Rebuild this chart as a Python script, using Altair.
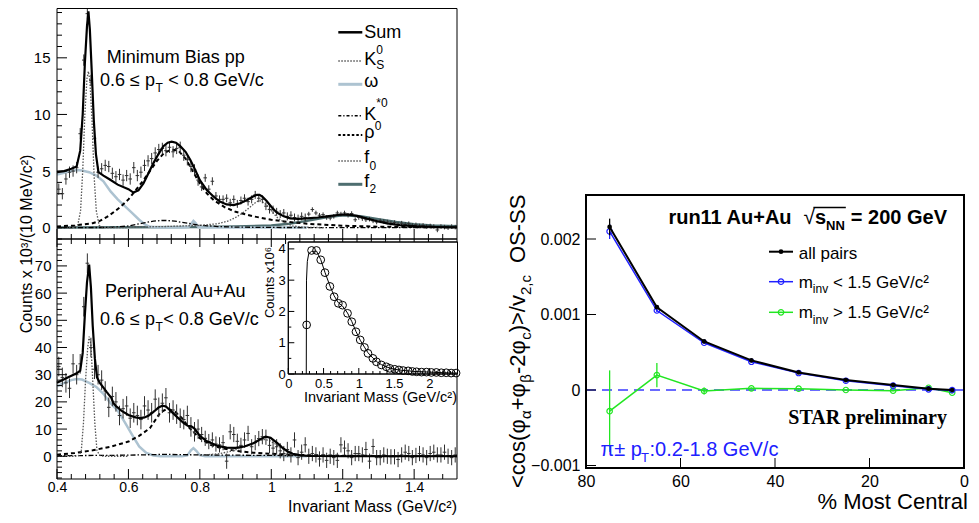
import altair as alt
import pandas as pd

W, H = 963, 507
FONT = "Liberation Sans"
ONE = pd.DataFrame({"k": [0]})

# ---------------- left panels: invariant-mass histograms ----------------
mass_bins = [round(0.405 + 0.01 * i, 3) for i in range(112)]
pp_counts = [3.4, 3.0, 4.3, 4.9, 5.0, 5.3, 8.3, 14.8, 18.9, 13.0,
             7.9, 4.9, 5.2, 5.5, 5.4, 4.8, 4.5, 4.7, 4.2, 4.6,
             4.3, 5.3, 4.6, 4.9, 5.5, 5.9, 6.1, 6.6, 6.9, 7.0,
             6.8, 7.1, 6.7, 7.0, 7.1, 6.4, 6.0, 5.4, 5.1, 4.2,
             3.6, 4.4, 3.4, 4.1, 2.8, 2.5, 2.5, 2.6, 2.2, 2.5,
             2.1, 2.4, 2.6, 2.3, 2.5, 2.9, 2.6, 2.5, 1.9, 1.6,
             1.6, 1.4, 1.2, 1.3, 1.0, 1.1, 0.9, 0.8, 1.0, 0.9,
             1.2, 1.6, 1.3, 1.1, 1.15, 0.9, 0.85, 1.0, 1.3, 1.2,
             1.3, 1.1, 1.25, 0.7, 0.9, 0.8, 0.7, 0.75, 0.6, 0.5,
             0.6, 0.55, 0.5, 0.4, 0.45, 0.3, 0.4, 0.3, 0.35, 0.2,
             0.25, 0.15, 0.2, 0.1, 0.15, 0.1, -0.2, 0.1, 0.05, 0.0,
             0.1, 0.05]
pp_errors = [0.5] * 40 + [0.35] * 30 + [0.2] * 42
auau_counts = [33, 29, 27, 25, 34, 30, 34, 55, 71, 40,
               32, 30, 28, 24, 18, 22, 20, 15, 17.5, 18.5,
               14, 16, 15, 13.5, 18.5, 17, 16, 21, 18, 19.5,
               21.5, 16, 17, 15.5, 14, 13.5, 15, 10.8, 9, 10,
               8, 6.6, 5.4, 6, 4.5, 4.2, 5, -1.8, 9, 8,
               5.5, 4, 6, 8.4, 3.5, 5, 6.5, 7.2, 7, 4,
               3, 3.5, 2, 1, 2.5, 0.5, 6, -0.5, 1.5, 4.2,
               0, 1, 0.5, -1, 0.5, -1.5, 0, -0.5, -1.5, 4.2,
               3, 2, -0.5, 1, 1, 0.5, 2.5, -1.8, 3.6, -0.5,
               -0.5, 0.5, 0, -0.2, -0.2, -1.2, 0.5, 1.5, 1, -0.5,
               0.3, 1, 0.5, -0.5, 1, 1.5, 0.5, 0.5, 1.5, 0,
               -0.5, 0.5]
auau_errors = [3.6] * 40 + [2.8] * 72

# fit components, pp
pp_sum_m = [0.40, 0.42, 0.44, 0.455, 0.465, 0.472, 0.478, 0.484, 0.488, 0.492, 0.497, 0.503, 0.509,
            0.516, 0.53, 0.548, 0.57, 0.60, 0.614, 0.628, 0.642, 0.656, 0.67, 0.684, 0.698, 0.71,
            0.721, 0.733, 0.745, 0.76, 0.773, 0.787, 0.80, 0.82, 0.838, 0.856, 0.875, 0.895, 0.913,
            0.932, 0.95, 0.96, 0.967, 0.975, 0.987, 1.00, 1.015, 1.035, 1.053, 1.075, 1.10, 1.13,
            1.155, 1.185, 1.212, 1.24, 1.268, 1.30, 1.324, 1.36, 1.408, 1.46, 1.52]
pp_sum_v = [4.9, 5.0, 5.2, 5.4, 6.8, 10.0, 14.5, 17.8, 19.1, 17.5, 14.0, 9.5, 6.5,
            4.9, 4.6, 4.25, 3.8, 3.4, 3.1, 3.3, 3.9, 4.8, 5.7, 6.5, 7.2, 7.5,
            7.6, 7.5, 7.2, 6.7, 6.0, 5.1, 4.2, 3.3, 2.75, 2.3, 2.05, 2.0, 2.15,
            2.45, 2.78, 2.9, 2.9, 2.75, 2.35, 1.85, 1.35, 1.0, 0.82, 0.78, 0.82, 0.9,
            1.0, 1.12, 1.18, 1.05, 0.8, 0.55, 0.38, 0.22, 0.12, 0.06, 0.03]
pp_ks_m = [0.40, 0.445, 0.458, 0.466, 0.472, 0.478, 0.484, 0.488, 0.492, 0.498, 0.504, 0.51, 0.518, 0.53, 0.60]
pp_ks_v = [0, 0, 0.2, 1.5, 5.0, 10.0, 13.2, 13.8, 13.0, 9.5, 4.5, 1.5, 0.2, 0, 0]
pp_omega_m = [0.40, 0.42, 0.44, 0.455, 0.47, 0.49, 0.51, 0.53, 0.55, 0.57, 0.59, 0.61, 0.63, 0.645,
              0.66, 0.68, 0.75, 0.768, 0.776, 0.782, 0.788, 0.796, 0.81, 0.90, 1.00, 1.10]
pp_omega_v = [4.7, 4.85, 5.0, 5.1, 5.05, 4.9, 4.6, 4.1, 3.2, 2.5, 1.9, 1.3, 0.7, 0.3,
              0.08, 0.02, 0.02, 0.05, 0.35, 0.6, 0.4, 0.05, 0.02, 0.02, 0.02, 0.02]
pp_kstar_m = [0.40, 0.55, 0.60, 0.64, 0.67, 0.70, 0.73, 0.76, 0.80, 0.85, 0.90, 1.0, 1.2, 1.52]
pp_kstar_v = [0.0, 0.02, 0.15, 0.4, 0.58, 0.65, 0.58, 0.42, 0.22, 0.1, 0.05, 0.02, 0.0, 0.0]
pp_rho_m = [0.40, 0.45, 0.50, 0.52, 0.54, 0.56, 0.58, 0.60, 0.62, 0.64, 0.66, 0.68, 0.70, 0.72, 0.74,
            0.76, 0.78, 0.80, 0.82, 0.84, 0.87, 0.90, 0.95, 1.00, 1.05, 1.10, 1.20, 1.30, 1.40, 1.52]
pp_rho_v = [0.1, 0.2, 0.4, 0.6, 0.95, 1.4, 1.9, 2.5, 3.3, 4.1, 5.0, 5.9, 6.6, 6.9, 6.8,
            6.1, 5.0, 3.9, 3.0, 2.4, 1.8, 1.4, 1.0, 0.7, 0.5, 0.35, 0.17, 0.09, 0.05, 0.03]
pp_f0_m = [0.60, 0.70, 0.80, 0.85, 0.88, 0.90, 0.92, 0.94, 0.955, 0.965, 0.975, 0.99, 1.005, 1.02,
           1.04, 1.06, 1.09, 1.15]
pp_f0_v = [0.05, 0.1, 0.2, 0.35, 0.6, 0.9, 1.3, 1.8, 2.2, 2.4, 2.3, 1.9, 1.3, 0.8, 0.4, 0.15, 0.05, 0.0]
pp_f2_m = [0.40, 0.60, 0.80, 0.90, 1.00, 1.05, 1.10, 1.15, 1.20, 1.25, 1.30, 1.35, 1.40, 1.45, 1.52]
pp_f2_v = [0.02, 0.03, 0.05, 0.1, 0.2, 0.35, 0.6, 0.9, 1.1, 1.0, 0.75, 0.5, 0.3, 0.2, 0.12]

# fit components, peripheral Au+Au
aa_sum_m = [0.40, 0.43, 0.455, 0.465, 0.472, 0.478, 0.484, 0.49, 0.495, 0.50, 0.506, 0.512, 0.52,
            0.54, 0.552, 0.558, 0.565, 0.58, 0.60, 0.62, 0.634, 0.645, 0.657, 0.67, 0.685, 0.695,
            0.705, 0.72, 0.738, 0.755, 0.766, 0.776, 0.785, 0.80, 0.82, 0.85, 0.875, 0.90, 0.925,
            0.95, 0.97, 0.984, 0.998, 1.017, 1.03, 1.045, 1.06, 1.082, 1.11, 1.20, 1.30, 1.40, 1.52]
aa_sum_v = [27, 29, 30.5, 31.5, 38, 52, 64, 70.5, 62, 48, 36, 29, 27,
            23.5, 21.5, 19.5, 18.5, 16.8, 15.2, 14.3, 14.0, 14.3, 15.0, 16.3, 18.0, 18.6,
            18.3, 16.5, 14.2, 12.2, 11.2, 11.0, 10.2, 7.5, 5.5, 3.8, 3.2, 3.1, 3.6,
            4.8, 6.3, 7.2, 6.8, 4.8, 3.3, 1.8, 0.9, 0.3, 0.1, 0.0, 0.0, 0.0, 0.0]
aa_ks_m = [0.40, 0.45, 0.462, 0.468, 0.474, 0.48, 0.486, 0.49, 0.495, 0.50, 0.506, 0.512, 0.52, 0.53, 0.60]
aa_ks_v = [0, 0, 0.3, 2, 12, 28, 40, 44, 41, 28, 12, 2, 0.3, 0, 0]
aa_omega_m = [0.40, 0.42, 0.44, 0.455, 0.47, 0.49, 0.51, 0.53, 0.55, 0.57, 0.59, 0.61, 0.63, 0.65,
              0.67, 0.69, 0.75, 0.765, 0.775, 0.782, 0.79, 0.80, 0.815, 0.90, 1.00, 1.10]
aa_omega_v = [25.7, 27.0, 28.0, 28.4, 28.2, 27.0, 25.5, 23.0, 19.5, 16.8, 12.5, 8.0, 3.6, 1.2,
              0.3, 0.05, 0.05, 0.3, 2.2, 3.0, 2.0, 0.4, 0.05, 0.0, 0.0, 0.0]
aa_rho_m = [0.40, 0.45, 0.50, 0.55, 0.60, 0.63, 0.66, 0.69, 0.71, 0.73, 0.75, 0.77, 0.80, 0.83, 0.86,
            0.90, 0.95, 1.00, 1.10, 1.20, 1.35, 1.52]
aa_rho_v = [0.6, 1.2, 2.2, 3.5, 5.4, 7.5, 10.3, 16.2, 17.5, 16.5, 14.0, 10.5, 6.6, 4.2, 3.0,
            2.0, 1.3, 0.9, 0.4, 0.2, 0.1, 0.05]
aa_kstar_m = [0.40, 0.60, 0.70, 0.80, 1.00, 1.20, 1.52]
aa_kstar_v = [0.2, 0.4, 0.7, 0.5, 0.3, 0.2, 0.1]
aa_f0_m = [0.80, 0.85, 0.88, 0.91, 0.94, 0.96, 0.98, 0.995, 1.01, 1.03, 1.05, 1.07, 1.10]
aa_f0_v = [0.3, 0.9, 1.6, 2.8, 4.3, 5.5, 6.2, 5.8, 4.6, 2.9, 1.4, 0.5, 0.1]

# inset: full mass range (counts x 10^6)
inset_m = [0.26, 0.33, 0.40, 0.46, 0.52, 0.59, 0.65, 0.71, 0.77, 0.84, 0.90, 0.96, 1.02, 1.08, 1.13,
           1.20, 1.25, 1.32, 1.39, 1.44, 1.51, 1.57, 1.63, 1.70, 1.76, 1.82, 1.89, 1.96, 2.03, 2.10,
           2.17, 2.24, 2.31, 2.38]
inset_v = [1.57, 3.95, 3.95, 3.65, 3.24, 2.80, 2.47, 2.26, 2.20, 1.94, 1.67, 1.35, 1.09, 0.85, 0.66,
           0.50, 0.39, 0.29, 0.23, 0.18, 0.15, 0.13, 0.11, 0.10, 0.08, 0.07, 0.06, 0.06, 0.05, 0.05,
           0.04, 0.04, 0.03, 0.03]
inset_fit_m = [0.255, 0.258, 0.27, 0.29, 0.33, 0.40, 0.46, 0.52, 0.59, 0.65, 0.71, 0.77, 0.84, 0.90,
               0.96, 1.02, 1.08, 1.13, 1.20, 1.25, 1.32, 1.39, 1.44, 1.51, 1.60, 1.70, 1.80, 1.90,
               2.00, 2.10, 2.20, 2.30, 2.40]
inset_fit_v = [0, 3.0, 3.6, 3.85, 3.92, 3.93, 3.66, 3.25, 2.82, 2.5, 2.28, 2.17, 1.95, 1.68,
               1.36, 1.08, 0.86, 0.68, 0.51, 0.40, 0.30, 0.23, 0.19, 0.15, 0.12, 0.10, 0.08, 0.07,
               0.06, 0.05, 0.04, 0.035, 0.03]

# ---------------- right panel: STAR correlator ----------------
centrality = [75, 65, 55, 45, 35, 25, 15, 7.5, 2.5]
all_pairs = [2.16e-3, 1.097e-3, 0.643e-3, 0.392e-3, 0.233e-3, 0.132e-3, 0.066e-3, 0.018e-3, 0.0]
all_err = [0.11e-3, 0.025e-3, 0.012e-3, 0.008e-3, 0.006e-3, 0.005e-3, 0.005e-3, 0.005e-3, 0.005e-3]
low_m = [2.10e-3, 1.053e-3, 0.626e-3, 0.374e-3, 0.225e-3, 0.123e-3, 0.057e-3, 0.009e-3, -0.002e-3]
low_err = [0.10e-3, 0.022e-3, 0.012e-3, 0.008e-3, 0.006e-3, 0.005e-3, 0.005e-3, 0.005e-3, 0.005e-3]
high_m = [-0.28e-3, 0.198e-3, -0.013e-3, 0.022e-3, 0.018e-3, 0.0, -0.009e-3, 0.03e-3, -0.035e-3]
high_err = [0.54e-3, 0.16e-3, 0.045e-3, 0.012e-3, 0.01e-3, 0.008e-3, 0.008e-3, 0.008e-3, 0.008e-3]

# tick lists
xl_major = [0.4, 0.6, 0.8, 1.0, 1.2, 1.4]
xl_minor = [round(0.4 + 0.04 * i, 2) for i in range(1, 28) if i % 5]
yt_major = [0, 5, 10, 15]
yt_minor = [v for v in range(-1, 20) if v % 5]
yb_major = [0, 10, 20, 30, 40, 50, 60, 70]
yb_minor = [v for v in range(-8, 80, 2) if v % 10]
xi_major = [0, 0.5, 1, 1.5, 2]
xi_minor = [round(0.1 * i, 1) for i in range(1, 24) if i % 5]
yi_major = [0, 1, 2, 3, 4]
yi_minor = [0.5, 1.5, 2.5, 3.5]
xr_major = [80, 60, 40, 20]
xr_labels = [80, 60, 40, 20, 0]
yr_major = [-0.001, 0, 0.001, 0.002]

BOT = 471  # bottom edge of the lower left panel (canvas px)


# ---------------- scales (pixel ranges inside one canvas) ----------------
def sc(d, r):
    return alt.Scale(domain=d, range=r, nice=False, zero=False)


def ax(orient, offset, values, size, pad, fmt=None, expr=None):
    kw = dict(orient=orient, offset=offset, values=values, ticks=False, domain=False, grid=False,
              labelFont=FONT, labelFontSize=size, labelColor="black", labelPadding=pad,
              labelFlush=False, labelOverlap=False, labelBound=False, title=None, tickSize=0)
    if fmt:
        kw["format"] = fmt
    if expr:
        kw["labelExpr"] = expr
    return alt.Axis(**kw)


class Panel:
    def __init__(self, xs, ys, xa=None, ya=None):
        self.xs, self.ys, self.xa, self.ya = xs, ys, xa, ya

    def X(self, f):
        return alt.X(f, scale=self.xs, axis=self.xa)

    def Y(self, f):
        return alt.Y(f, scale=self.ys, axis=self.ya)


PT = Panel(sc([0.4, 1.52], [49, 449]), sc([-1, 19.4], [231, 0]),
           None, ax("left", -49, yt_major, 15, 7))
PB = Panel(sc([0.4, 1.52], [49, 449]), sc([-8.36, 79.9], [BOT, 231]),
           ax("bottom", BOT - H, xl_major, 14, 1, fmt="~g"), ax("left", -49, yb_major, 15, 6))
PI = Panel(sc([0, 2.4], [280.3, 449.5]), sc([0, 4.22], [366, 234]),
           ax("bottom", 366 - H, xi_major, 13, 3, fmt="~g"), ax("left", -280.3, yi_major, 13, 3))
PR = Panel(sc([0, 80], [956, 578]), sc([-0.001033, 0.002583], [460, 187]),
           ax("bottom", 460 - H, xr_labels, 16, 5),
           ax("left", -578, yr_major, 16, 6,
              expr="datum.value == 0 ? '0' : format(datum.value, '.3f')"))


def xticks(p, vals, y0, length, width=1):
    df = pd.DataFrame({"t": vals})
    return alt.Chart(df).mark_rule(color="black", strokeWidth=width).encode(
        x=p.X("t:Q"), y=alt.value(y0), y2=alt.value(y0 + length))


def yticks(p, vals, x0, length, width=1):
    df = pd.DataFrame({"t": vals})
    return alt.Chart(df).mark_rule(color="black", strokeWidth=width).encode(
        y=p.Y("t:Q"), x=alt.value(x0), x2=alt.value(x0 + length))


def frame(x0, x1, y0, y1, width=1, white=False):
    m = alt.Chart(ONE).mark_rect(fill="white", fillOpacity=1 if white else 0,
                                 stroke="black", strokeWidth=width)
    return m.encode(x=alt.value(x0), x2=alt.value(x1), y=alt.value(y0), y2=alt.value(y1))


def curve(p, ms, vs, color, width, dash=None):
    df = pd.DataFrame({"m": ms, "v": vs})
    kw = dict(color=color, strokeWidth=width)
    if dash:
        kw["strokeDash"] = dash
    return alt.Chart(df).mark_line(**kw).encode(x=p.X("m:Q"), y=p.Y("v:Q"))


def crosses(p, ms, vs, es, hw=0.005):
    df = pd.DataFrame({"m": ms, "v": vs,
                       "lo": [v - e for v, e in zip(vs, es)], "hi": [v + e for v, e in zip(vs, es)],
                       "ml": [m - hw for m in ms], "mr": [m + hw for m in ms]})
    vert = alt.Chart(df).mark_rule(color="#303030", strokeWidth=1).encode(
        x=p.X("m:Q"), y=p.Y("lo:Q"), y2="hi:Q")
    horiz = alt.Chart(df).mark_rule(color="#303030", strokeWidth=1).encode(
        x=p.X("ml:Q"), x2="mr:Q", y=p.Y("v:Q"))
    return [vert, horiz]


DOT = [1.5, 1.5]
DASHDOT = [5, 2, 1.5, 2]
DASH = [4, 3]
OMEGA_C = "#adc3d1"
F2_C = "#4e6e70"
GRAY_DOT = "#555555"

# ---------------- top panel (pp) ----------------
top = alt.layer(
    curve(PT, pp_f2_m, pp_f2_v, F2_C, 2.5),
    curve(PT, pp_omega_m, pp_omega_v, OMEGA_C, 2.5),
    curve(PT, pp_kstar_m, pp_kstar_v, "black", 1.3, DASHDOT),
    curve(PT, pp_rho_m, pp_rho_v, "black", 2, DASH),
    curve(PT, pp_f0_m, pp_f0_v, GRAY_DOT, 1.3, DOT),
    curve(PT, pp_ks_m, pp_ks_v, GRAY_DOT, 1.3, DOT),
    *crosses(PT, mass_bins, pp_counts, pp_errors),
    curve(PT, pp_sum_m, pp_sum_v, "black", 2.2),
    yticks(PT, yt_major, 49, 10),
    yticks(PT, yt_minor, 49, 5),
    xticks(PT, xl_major, 231, -10),
    xticks(PT, xl_minor, 231, -5),
    frame(49, 449, 0.5, 231),
)

# ---------------- bottom panel (Au+Au) ----------------
bottom = alt.layer(
    curve(PB, aa_omega_m, aa_omega_v, OMEGA_C, 2.5),
    curve(PB, aa_kstar_m, aa_kstar_v, "black", 1.3, DASHDOT),
    curve(PB, aa_rho_m, aa_rho_v, "black", 2, DASH),
    curve(PB, aa_f0_m, aa_f0_v, GRAY_DOT, 1.3, DOT),
    curve(PB, aa_ks_m, aa_ks_v, GRAY_DOT, 1.3, DOT),
    *crosses(PB, mass_bins, auau_counts, auau_errors),
    curve(PB, aa_sum_m, aa_sum_v, "black", 2.2),
    yticks(PB, yb_major, 49, 10),
    yticks(PB, yb_minor, 49, 5),
    xticks(PB, xl_major, BOT, -10),
    xticks(PB, xl_minor, BOT, -5),
    xticks(PB, xl_major, 231, 8),
    xticks(PB, xl_minor, 231, 5),
    frame(49, 449, 231, BOT),
)

# ---------------- inset ----------------
inset_pts = pd.DataFrame({"m": inset_m, "v": inset_v})
inset = alt.layer(
    frame(280.3, 449.5, 234, 366, white=True),
    curve(PI, inset_fit_m, inset_fit_v, "black", 1),
    alt.Chart(inset_pts).mark_point(shape="circle", color="black", filled=False, size=60,
                                    strokeWidth=1, opacity=1).encode(x=PI.X("m:Q"), y=PI.Y("v:Q")),
    yticks(PI, yi_major, 280.3, 6),
    yticks(PI, yi_minor, 280.3, 3),
    xticks(PI, xi_major, 366, -6),
    xticks(PI, xi_minor, 366, -3),
    frame(280.3, 449.5, 234, 366),
)


# ---------------- right panel ----------------
def series(vals, errs, color, filled, width, size):
    df = pd.DataFrame({"c": centrality, "v": vals,
                       "lo": [v - e for v, e in zip(vals, errs)],
                       "hi": [v + e for v, e in zip(vals, errs)]})
    eb = alt.Chart(df).mark_rule(color=color, strokeWidth=1.3).encode(
        x=PR.X("c:Q"), y=PR.Y("lo:Q"), y2="hi:Q")
    ln = alt.Chart(df).mark_line(color=color, strokeWidth=width).encode(
        x=PR.X("c:Q"), y=PR.Y("v:Q"))
    pt = alt.Chart(df).mark_point(shape="circle", color=color, filled=filled, size=size,
                                  strokeWidth=1.2, opacity=1).encode(x=PR.X("c:Q"), y=PR.Y("v:Q"))
    return [eb, ln, pt]


zero_df = pd.DataFrame({"a": [80], "b": [0], "z": [0.0]})
BLUE = "#2020ff"
GREEN = "#22e622"
right = alt.layer(
    alt.Chart(zero_df).mark_rule(color="#3a3aff", strokeWidth=1.3, strokeDash=[10, 6]).encode(
        x=PR.X("a:Q"), x2="b:Q", y=PR.Y("z:Q")),
    *series(high_m, high_err, GREEN, False, 1.5, 30),
    *series(low_m, low_err, BLUE, False, 1.5, 30),
    *series(all_pairs, all_err, "black", True, 2, 22),
    yticks(PR, yr_major, 578, 10),
    xticks(PR, xr_major, 460, -10),
    frame(578, 956, 187, 460, width=2),
)

# ---------------- text helpers ----------------
REG_W = {" ": 278, ".": 278, ",": 278, ":": 278, "-": 333, "+": 584, "=": 584, "<": 584, ">": 584,
         "/": 278, "(": 333, ")": 333, "*": 389, "%": 889, "±": 584, "≤": 549, "√": 549,
         "a": 556, "b": 556, "c": 500, "d": 556, "e": 556, "f": 278, "g": 556, "h": 556, "i": 222,
         "j": 222, "k": 500, "l": 222, "m": 833, "n": 556, "o": 556, "p": 556, "q": 556, "r": 333,
         "s": 500, "t": 278, "u": 556, "v": 500, "w": 722, "x": 500, "y": 500, "z": 500,
         "A": 667, "B": 667, "C": 722, "G": 778, "K": 667, "M": 833, "N": 722, "O": 778, "P": 667,
         "S": 667, "T": 611, "V": 667, "α": 578, "β": 575, "φ": 667, "π": 583, "ρ": 573, "ω": 781}
BOLD_W = {" ": 278, "=": 584, "+": 584, "a": 556, "e": 556, "n": 611, "r": 389, "s": 556, "u": 611,
          "A": 722, "G": 778, "N": 722, "V": 667}


def tw(s, size, bold=False):
    tab = BOLD_W if bold else REG_W
    return sum(tab.get(ch, 556) for ch in s) * size / 1000.0


def label(text, x, y, size, bold=False, align="left", angle=0, color="black", font=FONT):
    kw = dict(text=text, fontSize=size, align=align, baseline="alphabetic", color=color, font=font)
    if bold:
        kw["fontWeight"] = "bold"
    if angle:
        kw["angle"] = angle
    return alt.Chart(ONE).mark_text(**kw).encode(x=alt.value(x), y=alt.value(y))


def rich(pieces, x0, y0, color="black", rotate=False):
    out, pos, spans = [], 0.0, []
    for text, size, dy, bold, gap in pieces:
        pos += gap
        if rotate:
            out.append(label(text, x0 + dy, y0 - pos, size, bold, angle=270, color=color))
        else:
            out.append(label(text, x0 + pos, y0 + dy, size, bold, color=color))
        w = tw(text, size, bold)
        spans.append((x0 + pos, x0 + pos + w))
        pos += w
    return out, pos, spans


def seg(x0, x1, y, color, width, dash=None):
    kw = dict(color=color, strokeWidth=width)
    if dash:
        kw["strokeDash"] = dash
    return alt.Chart(ONE).mark_rule(**kw).encode(x=alt.value(x0), x2=alt.value(x1), y=alt.value(y))


annot = []
# left panels
annot.append(label("Minimum Bias pp", 98.7, 55.3, 18))
annot += rich([("0.6 ≤ p", 18, 0, False, 0), ("T", 12, 5.5, False, 0.5),
               ("< 0.8 GeV/c", 18, 0, False, 5.5)], 92, 78)[0]
annot.append(label("Peripheral Au+Au", 97, 289.3, 18))
annot += rich([("0.6 ≤ p", 18, 0, False, 0), ("T", 12, 5.5, False, 0.5),
               ("< 0.8 GeV/c", 18, 0, False, 0.5)], 92, 317)[0]
annot.append(label("Counts x 10³/(10 MeV/c²)", 24, 236, 16, align="center", angle=270))
annot.append(label("Invariant Mass (GeV/c²)", 449, 503.5, 16, align="right"))
annot.append(label("Counts x10⁶", 266, 274.5, 13, align="center", angle=270))
annot.append(label("Invariant Mass (GeV/c²)", 449, 394, 14.5, align="right"))

# legend of the fit components
LX0, LX1, TX = 330.3, 354.3, 356.3
annot += [
    seg(LX0, LX1, 24.3, "black", 2.5),
    seg(LX0, LX1, 53, GRAY_DOT, 1.3, DOT),
    seg(LX0, LX1, 76.3, OMEGA_C, 3),
    seg(LX0, LX1, 107.7, "black", 1.5, [3, 2, 1.2, 2]),
    seg(LX0, LX1, 127, "black", 2, [2.5, 2]),
    seg(LX0, LX1, 153, GRAY_DOT, 1.3, DOT),
    seg(LX0, LX1, 176.3, F2_C, 3),
    label("Sum", TX, 29.7, 18),
    label("K", TX, 57, 18), label("0", TX + 12, 45.5, 12), label("S", TX + 12, 60.5, 12),
    label("ω", TX, 79.3, 18),
    label("K", TX, 112, 18), label("*0", TX + 12, 99, 12),
    label("ρ", TX, 130.3, 18), label("0", TX + 10.5, 122, 12),
    label("f", TX, 155.3, 18), label("0", TX + 5.3, 162, 12),
    label("f", TX, 178.7, 18), label("2", TX + 5.3, 185.3, 12),
]

# right panel title
title_pieces = [("run11 Au+Au", 20, 0, True, 0), ("√", 21, 0, False, 10), ("s", 20, 0, True, 0),
                ("NN", 13, 6, True, 0), ("= 200 GeV", 20, 0, True, 6)]
_, total, _ = rich(title_pieces, 0, 0)
t_layers, _, t_spans = rich(title_pieces, 939 - total, 216.3)
annot += t_layers
annot.append(seg(t_spans[1][1] - 1.5, t_spans[3][1] + 1, 199.5, "black", 1.4))
annot.append(label("STAR preliminary", 939, 416, 20, bold=True, align="right",
                   font="Liberation Serif"))
annot += rich([("π± p", 20, 0, False, 0), ("T", 13, 6, False, 0.5),
               (":0.2-1.8 GeV/c", 20, 0, False, 0.5)], 592.5, 448, color=BLUE)[0]

# right panel legend
annot += [
    seg(761, 785, 243.7, "black", 2),
    alt.Chart(ONE).mark_point(shape="circle", color="black", filled=True, size=22, opacity=1).encode(
        x=alt.value(773), y=alt.value(243.7)),
    label("all pairs", 790.7, 251, 17),
    seg(761, 785, 273.7, BLUE, 1.5),
    alt.Chart(ONE).mark_point(shape="circle", color=BLUE, filled=False, size=30, strokeWidth=1.2,
                              opacity=1).encode(x=alt.value(773), y=alt.value(273.7)),
    seg(761, 785, 304.3, GREEN, 1.5),
    alt.Chart(ONE).mark_point(shape="circle", color=GREEN, filled=False, size=30, strokeWidth=1.2,
                              opacity=1).encode(x=alt.value(773), y=alt.value(304.3)),
]
annot += rich([("m", 17, 0, False, 0), ("inv", 12, 5.5, False, 0),
               ("< 1.5 GeV/c²", 17, 0, False, 4.7)], 790.7, 279.5)[0]
annot += rich([("m", 17, 0, False, 0), ("inv", 12, 5.5, False, 0),
               ("> 1.5 GeV/c²", 17, 0, False, 4.7)], 790.7, 310)[0]

# right panel axis titles
annot += rich([("<cos(φ", 22, 0, False, 0), ("α", 15, 6, False, 0), ("+φ", 22, 0, False, 0),
               ("β", 15, 6, False, 0), ("-2φ", 22, 0, False, 0), ("c", 15, 6, False, 0),
               (")>/v", 22, 0, False, 0), ("2,c", 15, 6, False, 0), ("OS-SS", 22, 0, False, 12)],
              517, 480, rotate=True)[0]
annot.append(label("% Most Central", 960, 501, 22, align="right"))

chart = alt.layer(top, bottom, inset, right, *annot).resolve_scale(
    x="independent", y="independent"
).properties(
    width=W, height=H, padding=0, autosize=alt.AutoSizeParams(type="none")
).configure_view(strokeWidth=0)

chart.save("out.html", embed_options={"renderer": "svg", "actions": False})
